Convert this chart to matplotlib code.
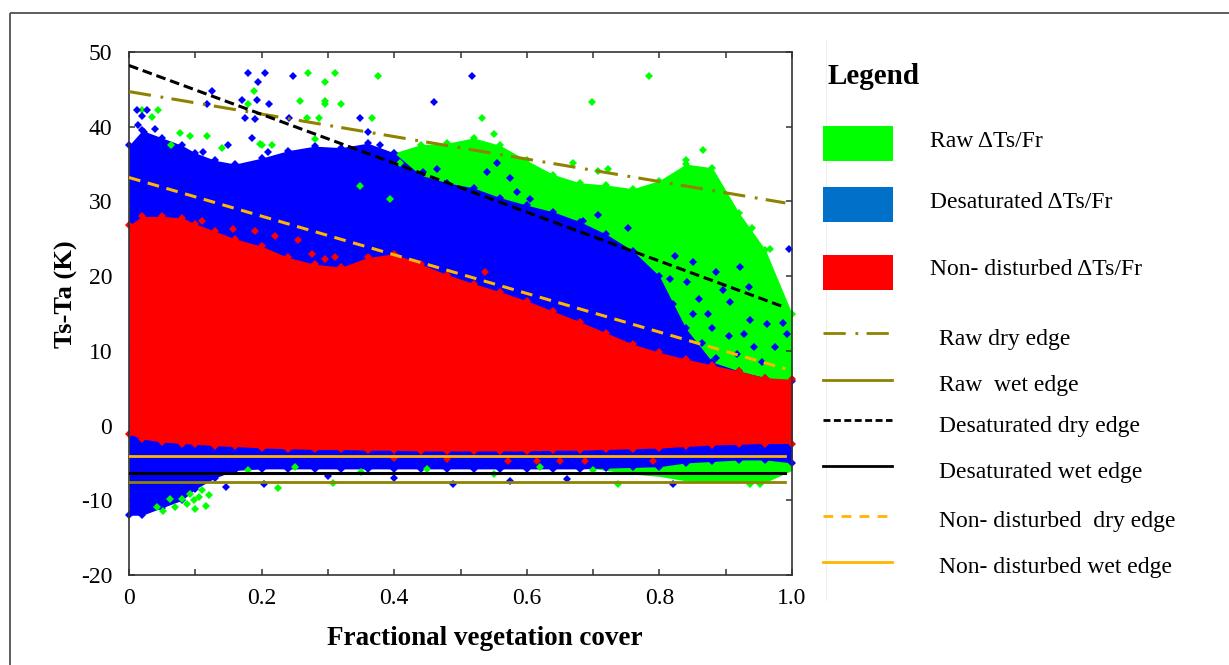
import matplotlib
matplotlib.use("Agg")
import matplotlib.pyplot as plt
from matplotlib.patches import Rectangle

plt.rcParams['font.family'] = ['Liberation Serif', 'DejaVu Serif']
plt.rcParams['axes.unicode_minus'] = False
plt.rcParams['lines.scale_dashes'] = False

# envelope of the dense point clouds
fr = [0, 0.02, 0.05, 0.08, 0.1, 0.13, 0.16, 0.2, 0.24, 0.28, 0.32, 0.36, 0.4, 0.44,
      0.48, 0.52, 0.56, 0.6, 0.64, 0.68, 0.72, 0.76, 0.8, 0.84, 0.88, 0.92, 0.96, 1.0]

red_hi = [26.8, 28.0, 28.0, 27.8, 27.0, 26.0, 25.0, 24.0, 22.5, 21.6, 21.2, 22.5, 23.0, 21.6,
          20.2, 19.0, 17.9, 16.7, 15.3, 13.9, 12.4, 10.9, 9.8, 8.9, 8.1, 7.3, 6.4, 6.2]
red_lo = [-1.1, -1.8, -2.2, -2.4, -2.5, -2.7, -2.8, -3.0, -3.1, -3.2, -3.2, -3.3, -3.3, -3.4,
          -3.4, -3.4, -3.4, -3.4, -3.3, -3.3, -3.2, -3.1, -3.0, -2.8, -2.6, -2.5, -2.4, -2.4]

blue_hi = [37.5, 39.5, 38.5, 37.5, 36.5, 35.5, 35.0, 35.8, 36.8, 37.4, 37.2, 37.8, 36.5, 33.5,
           32.5, 31.8, 30.5, 29.5, 28.6, 27.3, 25.6, 23.4, 20.0, 13.0, 8.5, 7.3, 6.4, 6.0]
blue_lo = [-12.0, -12.0, -11.0, -10.0, -8.5, -7.0, -6.0, -5.8, -5.8, -5.8, -5.8, -5.8, -5.8, -5.8,
           -5.8, -5.8, -5.8, -5.8, -5.8, -5.8, -5.7, -5.6, -5.5, -5.0, -4.8, -4.6, -4.6, -5.0]

green_hi = [36.0, 38.0, 37.0, 36.0, 35.0, 34.0, 34.0, 34.0, 35.0, 35.0, 35.0, 35.0, 36.5, 37.6,
            37.8, 38.5, 37.5, 35.5, 33.6, 32.5, 32.2, 31.7, 32.8, 35.0, 34.5, 28.5, 23.5, 15.0]
green_lo = [-5.0, -5.0, -5.0, -5.0, -5.0, -5.0, -5.0, -5.0, -5.0, -5.0, -5.0, -5.0, -5.0, -5.0,
            -5.0, -5.0, -5.0, -5.0, -5.0, -5.5, -6.0, -6.5, -6.8, -7.4, -7.6, -7.6, -7.6, -6.0]

# isolated points outside the dense clouds
green_spot_fr = [0.270, 0.311, 0.296, 0.376, 0.785, 0.189, 0.258, 0.295, 0.296, 0.320, 0.180, 0.698,
                 0.268, 0.286, 0.366, 0.532, 0.550, 0.281, 0.200, 0.215, 0.198, 0.140, 0.092, 0.117,
                 0.077, 0.064, 0.044, 0.034, 0.019, 0.866, 0.840, 0.723, 0.708, 0.669, 0.967, 0.939,
                 0.348, 0.394, 0.409, 0.441, 0.469,
                 0.225, 0.308, 0.116, 0.105, 0.092, 0.087, 0.042, 0.062, 0.738, 0.937, 0.952,
                 0.180, 0.250, 0.350, 0.450, 0.550, 0.620, 0.700,
                 0.080, 0.098, 0.110, 0.070, 0.120, 0.100, 0.052]
green_spot_dt = [47.2, 47.2, 46.0, 46.8, 46.8, 44.8, 43.5, 43.5, 43.0, 43.1, 43.1, 43.3,
                 41.1, 41.1, 41.1, 41.1, 39.0, 38.4, 37.5, 37.5, 37.7, 37.2, 38.7, 38.7,
                 39.2, 37.5, 42.2, 41.3, 42.2, 36.9, 35.5, 34.3, 34.1, 35.2, 23.6, 26.5,
                 32.1, 30.3, 35.2, 36.1, 36.6,
                 -8.3, -7.7, -10.7, -9.6, -9.1, -10.5, -10.9, -9.8, -7.8, -7.8, -7.8,
                 -6.0, -5.5, -6.2, -5.8, -6.5, -5.6, -6.0,
                 -9.8, -10.0, -8.6, -10.9, -9.3, -11.2, -11.5]

blue_spot_fr = [0.180, 0.205, 0.195, 0.247, 0.518, 0.125, 0.118, 0.170, 0.193, 0.211, 0.460, 0.175,
                0.190, 0.242, 0.349, 0.361, 0.186, 0.012, 0.019, 0.027, 0.014, 0.022, 0.039, 0.112,
                0.150, 0.210,
                0.379, 0.394, 0.421, 0.444, 0.464, 0.540, 0.555, 0.575, 0.585, 0.605,
                0.685, 0.708, 0.753, 0.824, 0.851, 0.886, 0.922, 0.996, 0.841, 0.816, 0.906, 0.937,
                0.821, 0.987, 0.992, 0.927, 0.874, 0.962, 0.896, 0.851, 0.942, 0.886, 0.917,
                0.800, 0.830, 0.865, 0.905, 0.955, 0.975, 0.860, 0.880, 0.935, 0.810,
                0.147, 0.203, 0.488, 0.575, 0.821, 0.300, 0.400, 0.660]
blue_spot_dt = [47.2, 47.2, 46.0, 46.8, 46.8, 44.8, 43.1, 43.6, 43.6, 43.1, 43.3, 41.1,
                41.0, 41.1, 41.1, 39.3, 38.5, 42.2, 41.5, 42.2, 40.2, 39.3, 39.7, 36.6,
                37.5, 36.6,
                37.5, 35.5, 32.6, 33.9, 34.4, 33.9, 35.2, 33.2, 31.2, 30.3,
                27.4, 28.2, 26.5, 22.7, 21.9, 20.6, 21.2, 23.6, 19.2, 19.6, 16.5, 14.1,
                16.3, 13.7, 12.3, 12.3, 15.0, 13.6, 18.1, 15.0, 10.5, 9.1, 9.6,
                14.0, 12.5, 11.0, 12.0, 8.5, 10.5, 17.0, 13.0, 18.5, 11.5,
                -8.2, -7.8, -7.8, -7.4, -7.8, -6.8, -7.0, -7.2]

red_spot_fr = [0.110, 0.157, 0.190, 0.220, 0.255, 0.276, 0.311, 0.296, 0.537,
               0.572, 0.615, 0.650, 0.688, 0.791, 0.400, 0.480]
red_spot_dt = [27.4, 26.3, 26.1, 25.4, 24.8, 23.0, 22.5, 22.3, 20.5,
               -4.7, -4.7, -4.7, -4.7, -4.7, -4.4, -4.5]

# dry / wet edges, given by their end points
edge_fr = [0, 0.99]
raw_dry = [44.7, 29.8]
desat_dry = [48.2, 15.8]
nondist_dry = [33.2, 7.6]
raw_wet = [-7.5, -7.5]
desat_wet = [-6.4, -6.4]
nondist_wet = [-4.1, -4.1]

x_ticks = [0, 0.1, 0.2, 0.3, 0.4, 0.5, 0.6, 0.7, 0.8, 0.9, 1.0]
x_labels = ["0", "", "0.2", "", "0.4", "", "0.6", "", "0.8", "", "1.0"]
y_ticks = [-20, -10, 0, 10, 20, 30, 40, 50]

patch_labels = ["Raw \u0394Ts/Fr", "Desaturated \u0394Ts/Fr", "Non- disturbed \u0394Ts/Fr"]
line_labels = ["Raw dry edge", "Raw  wet edge", "Desaturated dry edge",
               "Desaturated wet edge", "Non- disturbed  dry edge", "Non- disturbed wet edge"]

GREEN, BLUE, RED = "#00ff00", "#0000ff", "#ff0000"
OLIVE, ORANGE = "#8f8200", "#ffb400"

fig = plt.figure(figsize=(12.29, 6.65), dpi=100)
ax = fig.add_axes([129 / 1229, 1 - 575 / 665, 663 / 1229, 523 / 665])

ms = 3.7
# green cloud
ax.fill_between(fr, green_lo, green_hi, color=GREEN, lw=0, zorder=1)
ax.plot(fr[12:], green_hi[12:], "D", color=GREEN, ms=4.5, mew=0, zorder=1, clip_on=False)
# blue cloud
ax.fill_between(fr, blue_lo, blue_hi, color=BLUE, lw=0, zorder=2)
ax.plot(fr, blue_hi, "D", color=BLUE, ms=4.5, mew=0, zorder=2, clip_on=False)
ax.plot(fr, blue_lo, "D", color=BLUE, ms=4.5, mew=0, zorder=2, clip_on=False)
ax.plot(green_spot_fr, green_spot_dt, "D", color=GREEN, ms=ms, mew=0, ls="none", zorder=3)
ax.plot(blue_spot_fr, blue_spot_dt, "D", color=BLUE, ms=ms, mew=0, ls="none", zorder=3, clip_on=False)
# red cloud
ax.fill_between(fr, red_lo, red_hi, color=RED, lw=0, zorder=4)
ax.plot(fr, red_hi, "D", color=RED, ms=4.5, mew=0, zorder=4, clip_on=False)
ax.plot(fr, red_lo, "D", color=RED, ms=4.5, mew=0, zorder=4, clip_on=False)
ax.plot(red_spot_fr, red_spot_dt, "D", color=RED, ms=ms, mew=0, ls="none", zorder=4)

# edges
ax.plot(edge_fr, raw_dry, color=OLIVE, lw=2.2, dashes=(16, 7, 2, 6), zorder=6)
ax.plot(edge_fr, desat_dry, color="black", lw=2.2, dashes=(7, 3.5), zorder=6)
ax.plot(edge_fr, nondist_dry, color=ORANGE, lw=2.2, dashes=(8.5, 5.5), zorder=6)
ax.plot(edge_fr, raw_wet, color=OLIVE, lw=2.0, zorder=6)
ax.plot(edge_fr, desat_wet, color="black", lw=2.2, zorder=6)
ax.plot(edge_fr, nondist_wet, color=ORANGE, lw=2.0, zorder=6)

ax.set_xlim(0, 1.0)
ax.set_ylim(-20, 50)
ax.set_xticks(x_ticks)
ax.set_xticklabels(x_labels)
ax.set_yticks(y_ticks)
ax.tick_params(direction="in", top=True, right=True, length=4.5, width=1.1,
               labelsize=17, color="#333333")
ax.tick_params(axis="x", pad=9)
ax.tick_params(axis="y", pad=12)
for sp in ax.spines.values():
    sp.set_linewidth(1.2)
    sp.set_color("#333333")
    sp.set_zorder(5)

ax.set_xlabel("Fractional vegetation cover", fontsize=19.5, fontweight="bold")
ax.xaxis.set_label_coords((485 - 129) / 663, (575 - 645) / 523)
ax.xaxis.label.set_va("baseline")
ax.set_ylabel("Ts-Ta (K)", fontsize=19, fontweight="bold")
ax.yaxis.set_label_coords((66 - 129) / 663, (575 - 294) / 523)
ax.yaxis.label.set_va("center")

# legend panel, drawn in pixel coordinates of the whole figure
lg = fig.add_axes([0, 0, 1, 1], zorder=-1)
lg.set_xlim(0, 1229)
lg.set_ylim(665, 0)
lg.axis("off")
lg.add_patch(Rectangle((10, 13), 1300, 700, fill=False, ec="#505050", lw=1.3))
lg.plot([826, 826], [40, 600], color="#eeeeee", lw=0.8, zorder=0)

lg.text(828, 84, "Legend", fontsize=21, fontweight="bold", va="baseline")
patch_cols = [GREEN, "#0070c8", RED]
patch_top = [126, 187, 255]
patch_base = [147, 208, 275]
for col, top, base, lab in zip(patch_cols, patch_top, patch_base, patch_labels):
    lg.add_patch(Rectangle((823, top), 70, 35, color=col, lw=0, zorder=3))
    lg.text(930, base, lab, fontsize=17, va="baseline")

line_y = [333, 380, 420, 466, 516, 562]
line_base = [345, 391, 432, 478, 527, 573]
line_cols = [OLIVE, OLIVE, "black", "black", ORANGE, ORANGE]
line_dash = [(16, 7, 2, 6), None, (5, 2.5), None, (7, 6), None]
for y, base, col, dsh, lab in zip(line_y, line_base, line_cols, line_dash, line_labels):
    if dsh:
        lg.plot([823, 892], [y, y], color=col, lw=2.0, dashes=dsh, zorder=3)
    else:
        lg.plot([823, 892], [y, y], color=col, lw=2.0, zorder=3)
    lg.text(939, base, lab, fontsize=17, va="baseline")

fig.savefig("out.png", dpi=100)
